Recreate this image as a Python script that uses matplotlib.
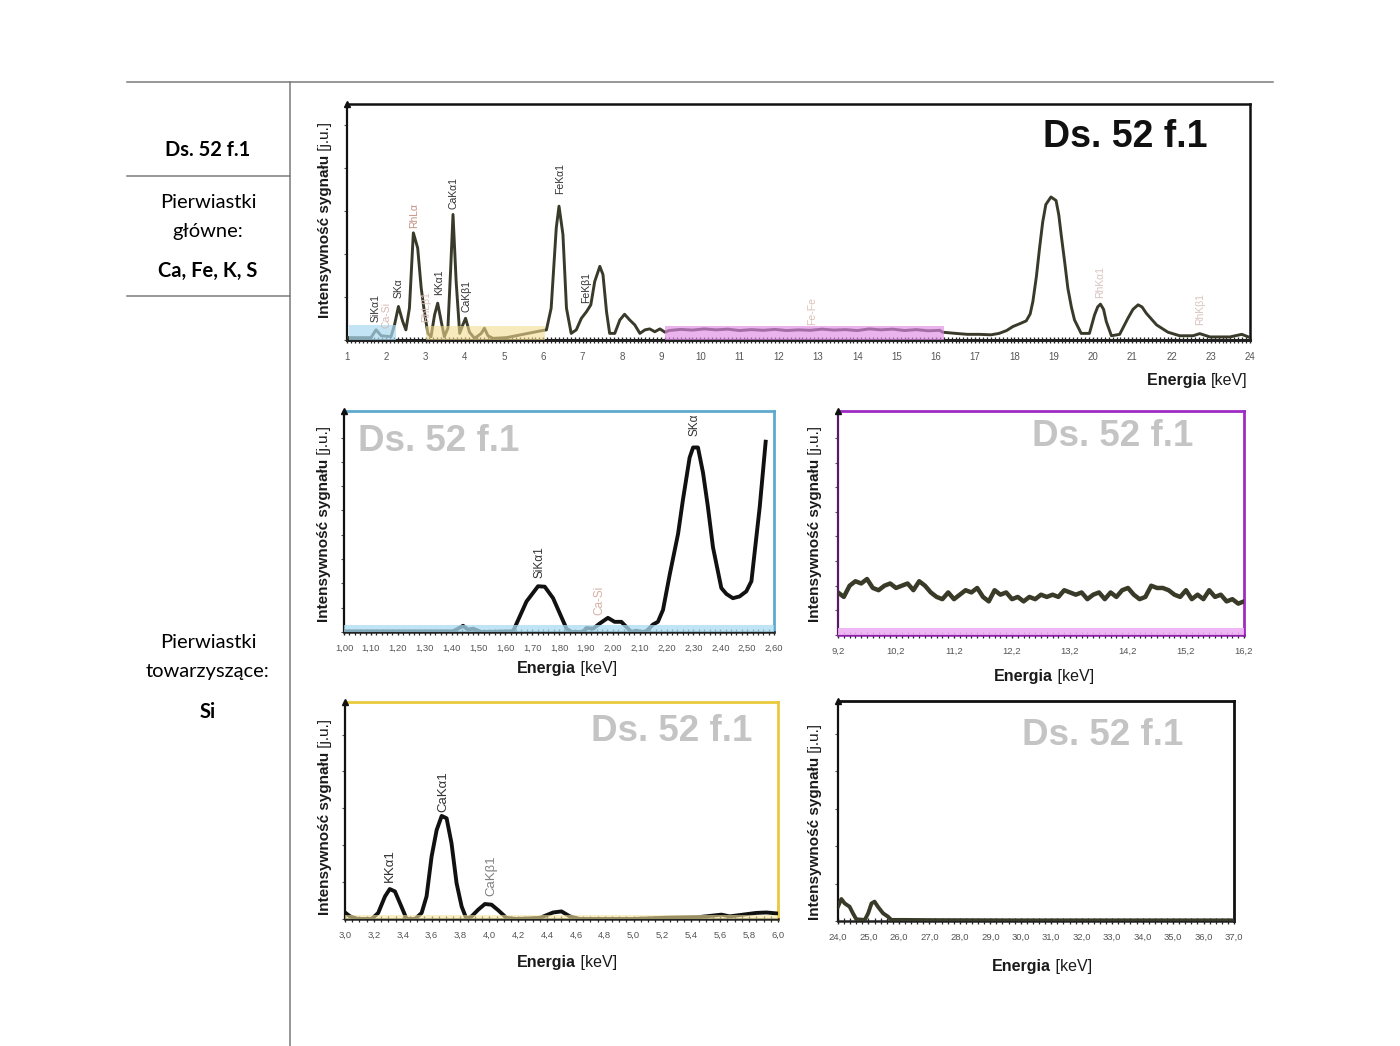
import matplotlib
matplotlib.use('Agg')
import matplotlib.pyplot as plt
from matplotlib.lines import Line2D
from matplotlib.ticker import MultipleLocator, FixedLocator, FixedFormatter
import numpy as np

# ---------------- data ----------------
main_energy = [1.00, 1.06, 1.61, 1.74, 1.87, 1.99, 2.12, 2.21, 2.31, 2.42, 2.50, 2.59, 2.69, 2.80, 2.89,
               2.97, 3.06, 3.14, 3.23, 3.31, 3.40, 3.48, 3.57, 3.64, 3.70, 3.78, 3.87, 3.95, 4.02, 4.12, 4.25,
               4.42, 4.50, 4.59, 4.72, 5.06, 5.48, 5.91, 6.08, 6.20, 6.33, 6.40, 6.50, 6.59, 6.71, 6.84,
               6.97, 7.10, 7.21, 7.31, 7.44, 7.52, 7.61, 7.69, 7.82, 7.95, 8.07, 8.20, 8.33, 8.46, 8.59,
               8.71, 8.84, 8.97, 9.10, 9.20, 9.50, 9.80, 10.10, 10.40, 10.70, 11.00, 11.30, 11.60, 11.90,
               12.20, 12.50, 12.80, 13.10, 13.40, 13.70, 14.00, 14.30, 14.60, 14.90, 15.20, 15.50, 15.80,
               16.10, 16.17, 16.50, 16.80, 17.10, 17.40, 17.61, 17.80, 17.96, 18.15, 18.30, 18.40, 18.47, 18.56,
               18.64, 18.72, 18.80, 18.93, 19.06, 19.13, 19.19, 19.28, 19.36, 19.45,
               19.53, 19.70, 19.91, 20.04, 20.12, 20.19, 20.27, 20.34, 20.47, 20.68, 20.89, 21.02, 21.15, 21.25,
               21.36, 21.62, 21.91, 22.21, 22.55, 22.72, 22.98, 23.49, 23.79, 23.96]
main_intensity = [0.010, 0.010, 0.010, 0.043, 0.018, 0.016, 0.014, 0.064, 0.142, 0.078, 0.043, 0.135, 0.454, 0.390, 0.220,
                  0.120, 0.028, 0.014, 0.106, 0.156, 0.078, 0.014, 0.050, 0.300, 0.532, 0.248, 0.028, 0.064, 0.092, 0.033, 0.007,
                  0.028, 0.050, 0.018, 0.007, 0.010, 0.024, 0.038, 0.043, 0.135, 0.475, 0.567, 0.447, 0.135, 0.028, 0.043,
                  0.092, 0.120, 0.149, 0.248, 0.312, 0.277, 0.120, 0.028, 0.028, 0.085, 0.109, 0.085, 0.064, 0.028, 0.043,
                  0.047, 0.035, 0.047, 0.033, 0.040, 0.045, 0.042, 0.047, 0.043, 0.046, 0.040, 0.044, 0.041, 0.045,
                  0.040, 0.043, 0.041, 0.046, 0.042, 0.044, 0.040, 0.047, 0.043, 0.046, 0.040, 0.044, 0.039,
                  0.041, 0.033, 0.028, 0.024, 0.024, 0.022, 0.028, 0.040, 0.057, 0.070, 0.081, 0.110, 0.163, 0.270,
                  0.390, 0.500, 0.574, 0.606, 0.591, 0.530, 0.447, 0.330, 0.220, 0.140,
                  0.085, 0.028, 0.028, 0.106, 0.140, 0.152, 0.130, 0.078, 0.018, 0.024, 0.092, 0.130, 0.149, 0.140,
                  0.113, 0.064, 0.033, 0.018, 0.018, 0.027, 0.013, 0.013, 0.024, 0.013]

si_energy = [1.000, 1.406, 1.443, 1.461, 1.480, 1.511, 1.629, 1.679, 1.722, 1.747, 1.778, 1.828, 1.846, 1.889,
             1.902, 1.927, 1.951, 1.982, 2.007, 2.032, 2.057, 2.069, 2.088, 2.107, 2.125, 2.150, 2.168, 2.187,
             2.212, 2.243, 2.261, 2.286, 2.299, 2.317, 2.336, 2.354, 2.373, 2.404, 2.423, 2.447, 2.472, 2.497,
             2.516, 2.547, 2.569]
si_intensity = [0.003, 0.003, 0.028, 0.011, 0.015, 0.000, 0.003, 0.138, 0.207, 0.205, 0.153, 0.015, 0.000, 0.000,
                0.018, 0.015, 0.038, 0.064, 0.046, 0.046, 0.015, 0.000, 0.006, 0.000, 0.003, 0.034, 0.046, 0.100,
                0.260, 0.444, 0.597, 0.789, 0.835, 0.835, 0.720, 0.567, 0.383, 0.199, 0.172, 0.153, 0.161, 0.184,
                0.230, 0.567, 0.861]

mid_energy = [9.2, 9.3, 9.4, 9.5, 9.6, 9.7, 9.8, 9.9, 10.0, 10.1, 10.2, 10.3, 10.4, 10.5, 10.6, 10.7, 10.8, 10.9,
              11.0, 11.1, 11.2, 11.3, 11.4, 11.5, 11.6, 11.7, 11.8, 11.9, 12.0, 12.1, 12.2, 12.3, 12.4, 12.5,
              12.6, 12.7, 12.8, 12.9, 13.0, 13.1, 13.2, 13.3, 13.4, 13.5, 13.6, 13.7, 13.8, 13.9, 14.0, 14.1,
              14.2, 14.3, 14.4, 14.5, 14.6, 14.7, 14.8, 14.9, 15.0, 15.1, 15.2, 15.3, 15.4, 15.5, 15.6, 15.7,
              15.8, 15.9, 16.0, 16.1, 16.2]
mid_intensity = [0.19, 0.17, 0.22, 0.24, 0.23, 0.25, 0.21, 0.20, 0.22, 0.23, 0.21, 0.22, 0.23, 0.20, 0.24, 0.22, 0.19, 0.17,
                 0.16, 0.19, 0.16, 0.18, 0.20, 0.19, 0.21, 0.17, 0.15, 0.20, 0.18, 0.19, 0.16, 0.17, 0.15, 0.17,
                 0.16, 0.18, 0.17, 0.18, 0.17, 0.20, 0.19, 0.18, 0.19, 0.16, 0.18, 0.19, 0.16, 0.19, 0.17, 0.20,
                 0.21, 0.18, 0.16, 0.17, 0.22, 0.21, 0.21, 0.20, 0.18, 0.17, 0.20, 0.16, 0.18, 0.16, 0.20, 0.17,
                 0.18, 0.15, 0.16, 0.14, 0.15]

ca_energy = [3.000, 3.035, 3.090, 3.185, 3.230, 3.277, 3.310, 3.346, 3.380, 3.427, 3.485, 3.531, 3.565, 3.600,
             3.635, 3.670, 3.704, 3.738, 3.773, 3.808, 3.842, 3.877, 3.923, 3.969, 4.015, 4.062, 4.119, 4.190,
             4.350, 4.442, 4.500, 4.558, 4.627, 4.996, 5.227, 5.458, 5.608, 5.665, 5.758, 5.850, 5.920, 6.000]
ca_intensity = [0.030, 0.012, 0.000, 0.000, 0.028, 0.104, 0.138, 0.127, 0.074, 0.000, 0.000, 0.028, 0.104, 0.288,
                0.410, 0.475, 0.464, 0.349, 0.165, 0.058, 0.000, 0.012, 0.043, 0.069, 0.066, 0.040, 0.005, 0.000,
                0.005, 0.030, 0.035, 0.012, 0.000, 0.000, 0.006, 0.009, 0.020, 0.012, 0.020, 0.028, 0.030, 0.025]

hi_energy = [24.00, 24.11, 24.22, 24.38, 24.49, 24.60, 24.88, 24.99, 25.10, 25.20, 25.31, 25.48, 25.64, 25.75,
             26.14, 27.00, 30.00, 37.00]
hi_intensity = [0.065, 0.100, 0.080, 0.065, 0.035, 0.008, 0.005, 0.035, 0.080, 0.088, 0.065, 0.035, 0.020, 0.005,
                0.005, 0.004, 0.003, 0.003]

main_labels = [(1.74, 0.078, 'SiKα1', '#333333'), (2.01, 0.05, 'Ca-Si', '#d8b8b4'), (2.31, 0.177, 'SKα', '#333333'),
               (2.72, 0.475, 'RhLα', '#c49080'), (3.02, 0.078, 'RhLβ1', '#dcc0b8'), (3.34, 0.19, 'KKα1', '#333333'),
               (3.71, 0.553, 'CaKα1', '#333333'), (4.04, 0.12, 'CaKβ1', '#333333'), (6.42, 0.617, 'FeKα1', '#333333'),
               (7.10, 0.156, 'FeKβ1', '#333333'), (12.85, 0.064, 'Fe-Fe', '#dcc0b8'), (20.19, 0.177, 'RhKα1', '#d8c4c0'),
               (22.74, 0.064, 'RhKβ1', '#d8c4c0')]
si_labels = [(1.726, 0.245, 'SiKα1', '#333333'), (1.951, 0.077, 'Ca-Si', '#d8b0a8'), (2.305, 0.888, 'SKα', '#333333')]
ca_labels = [(3.31, 0.17, 'KKα1', '#333333'), (3.68, 0.495, 'CaKα1', '#333333'), (4.015, 0.104, 'CaKβ1', '#808080')]

# ---------------- figure ----------------
W, H = 1400, 1046
fig = plt.figure(figsize=(14, 10.46), dpi=100)
CF = ['Liberation Sans', 'DejaVu Sans']
TF = ['Lato', 'DejaVu Sans']


def fx(px):
    return px / W


def fy(py):
    return 1 - py / H


def rect(l, t, r, b):
    return [l / W, 1 - b / H, (r - l) / W, (b - t) / H]


# table lines
for (x0, y0, x1, y1) in [(127, 82, 1273, 82), (290, 82, 290, 1046), (127, 176, 290, 176), (127, 296, 290, 296)]:
    fig.add_artist(Line2D([fx(x0), fx(x1)], [fy(y0), fy(y1)], color='#7a7a7a', lw=1.1))

fig.text(fx(208), fy(150), 'Ds. 52 f.1', ha='center', va='center', fontsize=14.5, fontweight='bold', family=TF)
fig.text(fx(208), fy(202), 'Pierwiastki', ha='center', va='center', fontsize=14.5, family=TF)
fig.text(fx(208), fy(231), 'główne:', ha='center', va='center', fontsize=14.5, family=TF)
fig.text(fx(208), fy(271), 'Ca, Fe, K, S', ha='center', va='center', fontsize=14.5, fontweight='bold', family=TF)
fig.text(fx(208), fy(643), 'Pierwiastki', ha='center', va='center', fontsize=14.5, family=TF)
fig.text(fx(208), fy(672), 'towarzyszące:', ha='center', va='center', fontsize=14.5, family=TF)
fig.text(fx(208), fy(712), 'Si', ha='center', va='center', fontsize=14.5, fontweight='bold', family=TF)


def ylab(ax, xpx, bottom_px, size=11):
    t = fig.text(fx(xpx), fy(bottom_px), 'Intensywność sygnału', rotation=90, ha='center', va='bottom',
                 fontsize=size, fontweight='bold', family=CF, color='#1a1a1a')
    ax.annotate(' [j.u.]', xy=(0.5, 1), xycoords=t, rotation=90, ha='center', va='bottom',
                fontsize=size, family=CF, color='#1a1a1a')


def xlab(ax, split_px, ypx, size=11.5):
    fig.text(fx(split_px), fy(ypx), 'Energia', ha='right', va='center', fontsize=size, fontweight='bold',
             family=CF, color='#1a1a1a')
    fig.text(fx(split_px), fy(ypx), ' [keV]', ha='left', va='center', fontsize=size, family=CF, color='#1a1a1a')


def style(ax, frame, xmin, xmax, major, minor, ystep, fmt, lblsize=6.8):
    ax.set_xlim(xmin, xmax)
    ax.set_ylim(0, 1)
    for s in ['top', 'right']:
        ax.spines[s].set_color(frame)
        ax.spines[s].set_linewidth(2)
    ax.spines['left'].set_color('#111111')
    ax.spines['left'].set_linewidth(1.6)
    ax.spines['bottom'].set_color('#222222')
    ax.spines['bottom'].set_linewidth(1.8)
    ticks = np.arange(xmin, xmax + major / 2, major)
    ax.xaxis.set_major_locator(FixedLocator(ticks))
    ax.xaxis.set_major_formatter(FixedFormatter([fmt(v) for v in ticks]))
    ax.xaxis.set_minor_locator(MultipleLocator(minor))
    ax.tick_params(axis='x', which='major', direction='inout', length=5, width=1, color='#222222',
                   labelsize=lblsize, labelcolor='#555555', pad=6)
    ax.tick_params(axis='x', which='minor', direction='inout', length=4, width=0.9, color='#222222')
    ax.yaxis.set_major_locator(MultipleLocator(ystep))
    ax.tick_params(axis='y', which='major', direction='out', length=2.5, width=0.8, color='#555555',
                   labelleft=False)
    for lab in ax.get_xticklabels():
        lab.set_family(CF)
    # small arrow head on top of the vertical axis
    ax.plot([0], [1], marker='^', markersize=4.5, color='#111111', transform=ax.transAxes, clip_on=False, zorder=6)


# ---------- main chart ----------
ax0 = fig.add_axes(rect(347, 104, 1250, 340))
ax0.plot(main_energy, main_intensity, color='#3a3a2a', lw=2.1, zorder=3)
ax0.axvspan(1.05, 2.25, ymin=0, ymax=0.065, color='#a9d9f0', alpha=0.7, lw=0, zorder=4)
ax0.axvspan(3.0, 6.05, ymin=0, ymax=0.06, color='#f3dc90', alpha=0.6, lw=0, zorder=4)
ax0.axvspan(9.1, 16.2, ymin=0, ymax=0.06, color='#e08ae6', alpha=0.65, lw=0, zorder=4)
style(ax0, '#111111', 1, 24, 1, 0.1, 0.182, lambda v: '%d' % round(v), lblsize=7)
for s in ['top', 'right']:
    ax0.spines[s].set_linewidth(1.8)
ax0.spines['bottom'].set_linewidth(2.2)
for (x, y, s, c) in main_labels:
    ax0.text(x, y, s, rotation=90, ha='center', va='bottom', fontsize=7.5, color=c, family=CF, zorder=5)
ax0.text(0.862, 0.86, 'Ds. 52 f.1', transform=ax0.transAxes, ha='center', va='center', fontsize=27,
         fontweight='bold', color='#111111', family=CF)
ylab(ax0, 325, 318)
t_e = fig.text(fx(1247), fy(381), '[keV]', ha='right', va='center', fontsize=11.5, family=CF, color='#1a1a1a')
ax0.annotate('Energia ', xy=(0, 0.5), xycoords=t_e, ha='right', va='center', fontsize=11.5, fontweight='bold',
             family=CF, color='#1a1a1a')

# ---------- Si region (blue) ----------
ax1 = fig.add_axes(rect(344, 411, 774, 632))
ax1.plot(si_energy, si_intensity, color='#111111', lw=2.8, zorder=3)
ax1.axhspan(0, 0.03, color='#a9dcf2', alpha=0.75, lw=0, zorder=4)
style(ax1, '#5ea9cc', 1.0, 2.6, 0.1, 0.02, 0.11, lambda v: ('%.2f' % v).replace('.', ','))
for (x, y, s, c) in si_labels:
    ax1.text(x, y, s, rotation=90, ha='center', va='bottom', fontsize=8.5, color=c, family=CF, zorder=5)
ax1.text(0.221, 0.86, 'Ds. 52 f.1', transform=ax1.transAxes, ha='center', va='center', fontsize=26.5,
         fontweight='bold', color='#c4c4c4', family=CF)
ylab(ax1, 324, 622)
xlab(ax1, 576, 668)

# ---------- 9.2-16.2 region (purple) ----------
ax2 = fig.add_axes(rect(838, 411, 1244, 635))
ax2.plot(mid_energy, mid_intensity, color='#3a3a28', lw=3.2, zorder=3)
ax2.axhspan(0, 0.03, color='#eeb0f2', alpha=0.9, lw=0, zorder=4)
style(ax2, '#9e2cc2', 9.2, 16.2, 1.0, 0.1, 0.11, lambda v: ('%.1f' % v).replace('.', ','))
ax2.spines['bottom'].set_color('#8a1fa8')
ax2.spines['left'].set_color('#5a1a6a')
ax2.text(0.677, 0.884, 'Ds. 52 f.1', transform=ax2.transAxes, ha='center', va='center', fontsize=26.5,
         fontweight='bold', color='#c4c4c4', family=CF)
ylab(ax2, 815, 622)
xlab(ax2, 1053, 676)

# ---------- Ca region (yellow) ----------
ax3 = fig.add_axes(rect(345, 702, 778, 919))
ax3.plot(ca_energy, ca_intensity, color='#111111', lw=2.8, zorder=3)
ax3.axhspan(0, 0.02, color='#f5e6a0', alpha=0.6, lw=0, zorder=4)
style(ax3, '#e8ca3c', 3.0, 6.0, 0.2, 0.05, 0.17, lambda v: ('%.1f' % v).replace('.', ','))
for (x, y, s, c) in ca_labels:
    ax3.text(x, y, s, rotation=90, ha='center', va='bottom', fontsize=9.5, color=c, family=CF, zorder=5)
ax3.text(0.755, 0.866, 'Ds. 52 f.1', transform=ax3.transAxes, ha='center', va='center', fontsize=26.5,
         fontweight='bold', color='#c4c4c4', family=CF)
ylab(ax3, 325, 915)
xlab(ax3, 576, 962)

# ---------- high energy region (black) ----------
ax4 = fig.add_axes(rect(838, 701, 1234, 921))
ax4.plot(hi_energy, hi_intensity, color='#3a3a28', lw=2.8, zorder=3)
style(ax4, '#111111', 24.0, 37.0, 1.0, 0.2, 0.17, lambda v: ('%.1f' % v).replace('.', ','))
ax4.text(0.669, 0.845, 'Ds. 52 f.1', transform=ax4.transAxes, ha='center', va='center', fontsize=26.5,
         fontweight='bold', color='#c4c4c4', family=CF)
ylab(ax4, 815, 920)
xlab(ax4, 1051, 967)

fig.savefig('out.png', dpi=100)
